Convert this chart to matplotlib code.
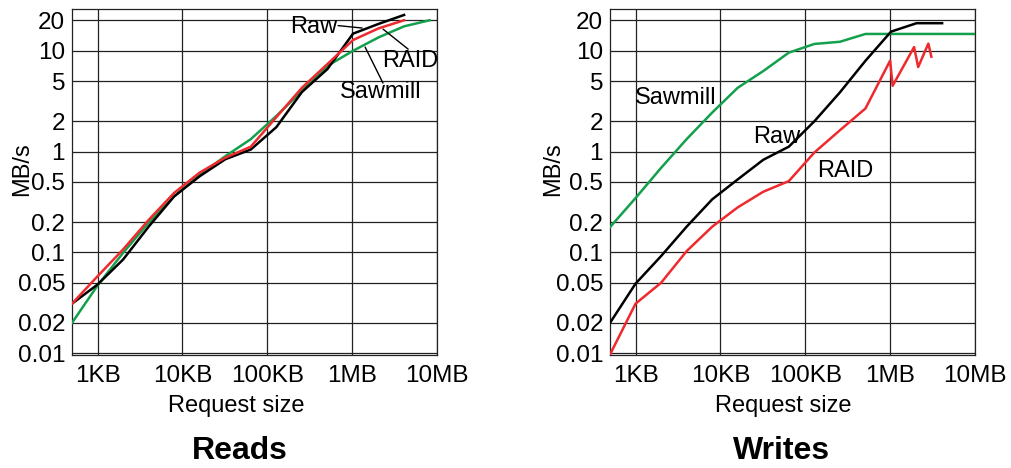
import matplotlib
matplotlib.use("Agg")
import matplotlib.pyplot as plt
from matplotlib.ticker import FixedLocator, FixedFormatter, NullLocator

plt.rcParams['font.family'] = ['Liberation Sans', 'DejaVu Sans']

# ---- data (request size in KB, throughput in MB/s) ----
sizes_kb = [0.5, 1, 2, 4, 8, 16, 32, 64, 128, 256, 512, 1024, 2048, 4096]

reads_raw = [0.031, 0.048, 0.085, 0.18, 0.36, 0.57, 0.84, 1.05, 1.75, 3.9, 6.6, 14.8, 18.5, 22.7]
reads_raid = [0.031, 0.058, 0.107, 0.21, 0.39, 0.62, 0.87, 1.12, 2.2, 4.3, 7.4, 12.8, 16.7, 20.1]
reads_saw_x = [0.5, 1, 2, 4, 8, 16, 32, 64, 128, 256, 512, 1024, 2048, 4096, 8192]
reads_saw = [0.02, 0.047, 0.099, 0.197, 0.36, 0.59, 0.9, 1.33, 2.26, 4.0, 7.1, 10.0, 13.6, 17.5, 20.1]

writes_raw = [0.02, 0.049, 0.092, 0.18, 0.336, 0.53, 0.83, 1.12, 2.0, 3.87, 7.97, 15.5, 18.8, 18.8]
writes_saw_x = [0.5, 1, 2, 4, 8, 16, 32, 64, 128, 256, 512, 1024, 2048, 4096, 8192, 10240]
writes_saw = [0.178, 0.346, 0.69, 1.33, 2.44, 4.3, 6.3, 9.6, 11.7, 12.3, 14.7, 14.7, 14.7, 14.7, 14.7, 14.7]
writes_raid_x = [0.5, 1, 2, 4, 8, 16, 32, 64, 128, 256, 512, 1000, 1070, 1915, 2140, 2820, 3060]
writes_raid = [0.0097, 0.031, 0.05, 0.103, 0.18, 0.28, 0.40, 0.51, 0.98, 1.63, 2.68, 8.0, 4.5, 10.9, 6.9, 11.8, 8.75]

x_ticks = [1, 10, 100, 1000, 10000]
x_labels = ['1KB', '10KB', '100KB', '1MB', '10MB']
y_ticks = [0.01, 0.02, 0.05, 0.1, 0.2, 0.5, 1, 2, 5, 10, 20]
y_labels = ['0.01', '0.02', '0.05', '0.1', '0.2', '0.5', '1', '2', '5', '10', '20']

RED = '#ee2a2e'
GREEN = '#13a04c'
BLACK = '#000000'
FS_TICK = 17.5
FS = 17
FS_TITLE = 23

fig = plt.figure(figsize=(10.11, 4.68), dpi=100)
ax1 = fig.add_axes([72/1011, 1-355/468, 365/1011, 346/468])
ax2 = fig.add_axes([610/1011, 1-355/468, 365/1011, 346/468])

for ax in (ax1, ax2):
    ax.set_xscale('log')
    ax.set_yscale('log')
    ax.set_xlim(0.5, 10000)
    ax.set_ylim(0.0096, 26)
    ax.xaxis.set_major_locator(FixedLocator(x_ticks))
    ax.xaxis.set_major_formatter(FixedFormatter(x_labels))
    ax.xaxis.set_minor_locator(NullLocator())
    ax.yaxis.set_major_locator(FixedLocator(y_ticks))
    ax.yaxis.set_major_formatter(FixedFormatter(y_labels))
    ax.yaxis.set_minor_locator(NullLocator())
    ax.tick_params(axis='both', length=0, labelsize=FS_TICK)
    ax.tick_params(axis='x', pad=7)
    ax.tick_params(axis='y', pad=5)
    ax.grid(True, which='major', color='#222222', linewidth=0.9)
    for s in ax.spines.values():
        s.set_color('#222222')
        s.set_linewidth(0.9)

lw = 1.8
ax1.plot(reads_saw_x, reads_saw, color=GREEN, lw=lw, zorder=3)
ax1.plot(sizes_kb, reads_raw, color=BLACK, lw=lw, zorder=4)
ax1.plot(sizes_kb, reads_raid, color=RED, lw=lw, zorder=5)

ax2.plot(writes_saw_x, writes_saw, color=GREEN, lw=lw, zorder=3)
ax2.plot(sizes_kb, writes_raw, color=BLACK, lw=lw, zorder=4)
ax2.plot(writes_raid_x, writes_raid, color=RED, lw=lw, zorder=5)

arrow = dict(arrowstyle='-', color='black', lw=1.0, shrinkA=0, shrinkB=0)
ax1.annotate('', xy=(0.795, 0.945), xytext=(0.729, 0.952), xycoords='axes fraction', arrowprops=arrow)
ax1.text(0.726, 0.948, 'Raw', transform=ax1.transAxes, ha='right', va='center', fontsize=FS)
ax1.annotate('', xy=(0.852, 0.942), xytext=(0.921, 0.884), xycoords='axes fraction', arrowprops=arrow)
ax1.text(0.926, 0.850, 'RAID', transform=ax1.transAxes, ha='center', va='center', fontsize=FS)
ax1.annotate('', xy=(0.803, 0.890), xytext=(0.852, 0.786), xycoords='axes fraction', arrowprops=arrow)
ax1.text(0.847, 0.760, 'Sawmill', transform=ax1.transAxes, ha='center', va='center', fontsize=FS)

ax2.text(0.181, 0.743, 'Sawmill', transform=ax2.transAxes, ha='center', va='center', fontsize=FS)
ax2.text(0.458, 0.630, 'Raw', transform=ax2.transAxes, ha='center', va='center', fontsize=FS)
ax2.text(0.644, 0.532, 'RAID', transform=ax2.transAxes, ha='center', va='center', fontsize=FS)

fig.text(22/1011, 1-169/468, 'MB/s', rotation=90, ha='center', va='center', fontsize=FS)
fig.text(553/1011, 1-169/468, 'MB/s', rotation=90, ha='center', va='center', fontsize=FS)
fig.text(236/1011, 1-406/468, 'Request size', ha='center', va='center', fontsize=FS)
fig.text(783/1011, 1-406/468, 'Request size', ha='center', va='center', fontsize=FS)
fig.text(240/1011, 1-451/468, 'Reads', ha='center', va='center', fontsize=FS_TITLE, fontweight='bold')
fig.text(782/1011, 1-451/468, 'Writes', ha='center', va='center', fontsize=FS_TITLE, fontweight='bold')

fig.savefig('out.png', dpi=100)
